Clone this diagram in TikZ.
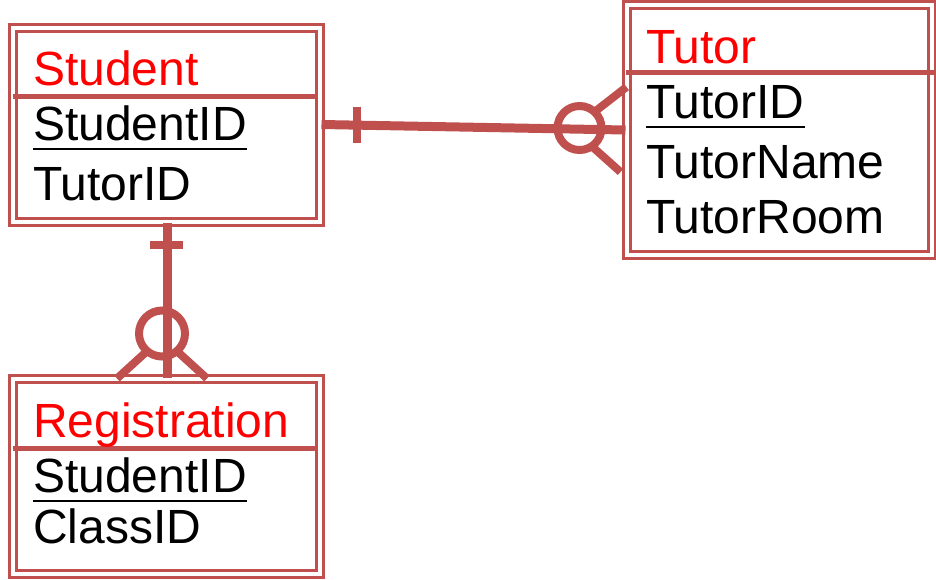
\documentclass[tikz,border=0pt]{standalone}
\usepackage{fontspec}
\setmainfont{Liberation Sans}
\usetikzlibrary{calc}
\definecolor{erred}{RGB}{192,80,77}
\definecolor{titlered}{RGB}{255,0,0}
\begin{document}
\begin{tikzpicture}[x=1pt,y=-1pt,
  entity/.style={rectangle, draw=erred, double=white, double distance=4pt,
                 line width=3pt, inner sep=0pt},
  divider/.style={draw=erred, line width=5pt},
  title/.style={anchor=base west, inner sep=0pt, text=titlered,
                font=\fontsize{48}{56}\selectfont},
  attr/.style={anchor=base west, inner sep=0pt, font=\fontsize{48}{56}\selectfont},
  keyline/.style={draw=black, line width=2pt},
  rel/.style={draw=erred, line width=9pt},
  ring/.style={draw=erred, line width=8pt, fill=white},
  tick/.style={draw=erred, line width=8pt}]
\useasboundingbox (0,0) rectangle (936,579);

% entity frames
\node[entity, minimum width=307pt, minimum height=194pt] (student) at (166.5,124.5) {};
\node[entity, minimum width=305pt, minimum height=250pt] (tutor) at (779.5,130) {};
\node[entity, minimum width=307pt, minimum height=195pt] (registration) at (166.5,476.5) {};

% header separators
\draw[divider] (13,96) -- (318,96);
\draw[divider] (626,72) -- (936,72);
\draw[divider] (13,448) -- (318,448);

% Student
\node[title] (studentT) at (33,85) {Student};
\node[attr] (sSid) at (33,140) {StudentID};
\node[attr] (sTid) at (33,200) {TutorID};
\draw[keyline] ([yshift=-9pt]sSid.base west) -- ([yshift=-9pt]sSid.base east);

% Tutor
\node[title] (tutorT) at (646,63) {Tutor};
\node[attr] (tTid) at (646,118) {TutorID};
\node[attr] (tName) at (646,178) {TutorName};
\node[attr] (tRoom) at (646,233) {TutorRoom};
\draw[keyline] ([yshift=-9pt]tTid.base west) -- ([yshift=-9pt]tTid.base east);

% Registration
\node[title] (regT) at (33,437) {Registration};
\node[attr] (rSid) at (33,492) {StudentID};
\node[attr] (rCid) at (33,543) {ClassID};
\draw[keyline] ([yshift=-9pt]rSid.base west) -- ([yshift=-9pt]rSid.base east);

% Student -- Tutor: one and only one to zero or many
\coordinate (tfoot) at ($(tutor.west)+(-53,-1)$);
\draw[tick] (tfoot) -- ($(tutor.west)+(1,-43)$);
\draw[tick] (tfoot) -- ($(tutor.west)+(-5,42)$);
\draw[ring] ($(tutor.west)+(-46,-2)$) circle[radius=22pt];
\draw[rel] (student.east) -- (tutor.west);
\draw[tick] ($(student.east)+(35,-18)$) -- ($(student.east)+(35,18)$);

% Student -- Registration: one and only one to zero or many
\coordinate (rfoot) at ($(registration.north)+(-4.5,-40)$);
\draw[tick] (rfoot) -- ($(registration.north)+(-49.5,1)$);
\draw[tick] (rfoot) -- ($(registration.north)+(40.5,1)$);
\draw[ring] ($(registration.north)+(-4.5,-44)$) circle[radius=23pt];
\draw[rel] ($(student.south)+(0.5,0)$) -- ($(registration.north)+(0.5,0)$);
\draw[tick] ($(student.south)+(-16.5,21.5)$) -- ($(student.south)+(16.5,21.5)$);
\end{tikzpicture}
\end{document}
